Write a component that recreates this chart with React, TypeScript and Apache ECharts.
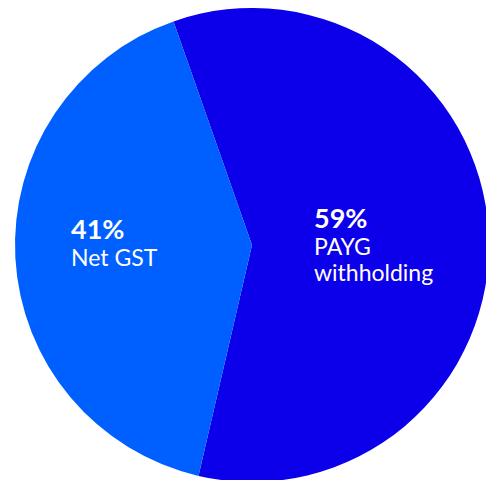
import React, { useEffect, useRef } from "react";
import * as echarts from "echarts";

const categories = ["PAYG withholding", "Net GST"];
const labelLines = ["PAYG\nwithholding", "Net GST"];
const values = [59, 41];
const colors = ["#0C00EB", "#005FFF"];
const labelPos = [
  { x: 314, y: 202 },
  { x: 71, y: 213 },
];

export default function App() {
  const ref = useRef<HTMLDivElement>(null);
  useEffect(() => {
    document.body.style.margin = "0";
    const chart = echarts.init(ref.current!, null, { renderer: "svg" });
    chart.setOption({
      animation: false,
      backgroundColor: "#ffffff",
      series: [
        {
          type: "pie",
          center: [252, 245],
          radius: [0, 237],
          startAngle: 109.35,
          clockwise: true,
          silent: true,
          data: categories.map((c, i) => ({
            name: c,
            value: values[i],
            itemStyle: { color: colors[i] },
          })),
          itemStyle: { borderWidth: 0 },
          label: {
            show: true,
            position: "inside",
            color: "#ffffff",
            fontFamily: "Lato",
            align: "left",
            formatter: (p: any) =>
              `{pct|${p.value}%}\n{name|${labelLines[p.dataIndex].split("\n").join("}\n{name|")}}`,
            rich: {
              pct: {
                fontSize: 27,
                fontWeight: "bold",
                lineHeight: 31,
                color: "#ffffff",
                fontFamily: "Lato",
                align: "left",
              },
              name: {
                fontSize: 23,
                lineHeight: 26,
                color: "#ffffff",
                fontFamily: "Lato",
                align: "left",
              },
            },
          },
          labelLine: { show: false },
          labelLayout: (params: any) => ({
            x: labelPos[params.dataIndex].x,
            y: labelPos[params.dataIndex].y,
            align: "left",
            verticalAlign: "top",
          }),
        },
      ],
    });
    return () => chart.dispose();
  }, []);
  return <div ref={ref} style={{ width: 486, height: 480 }} />;
}
